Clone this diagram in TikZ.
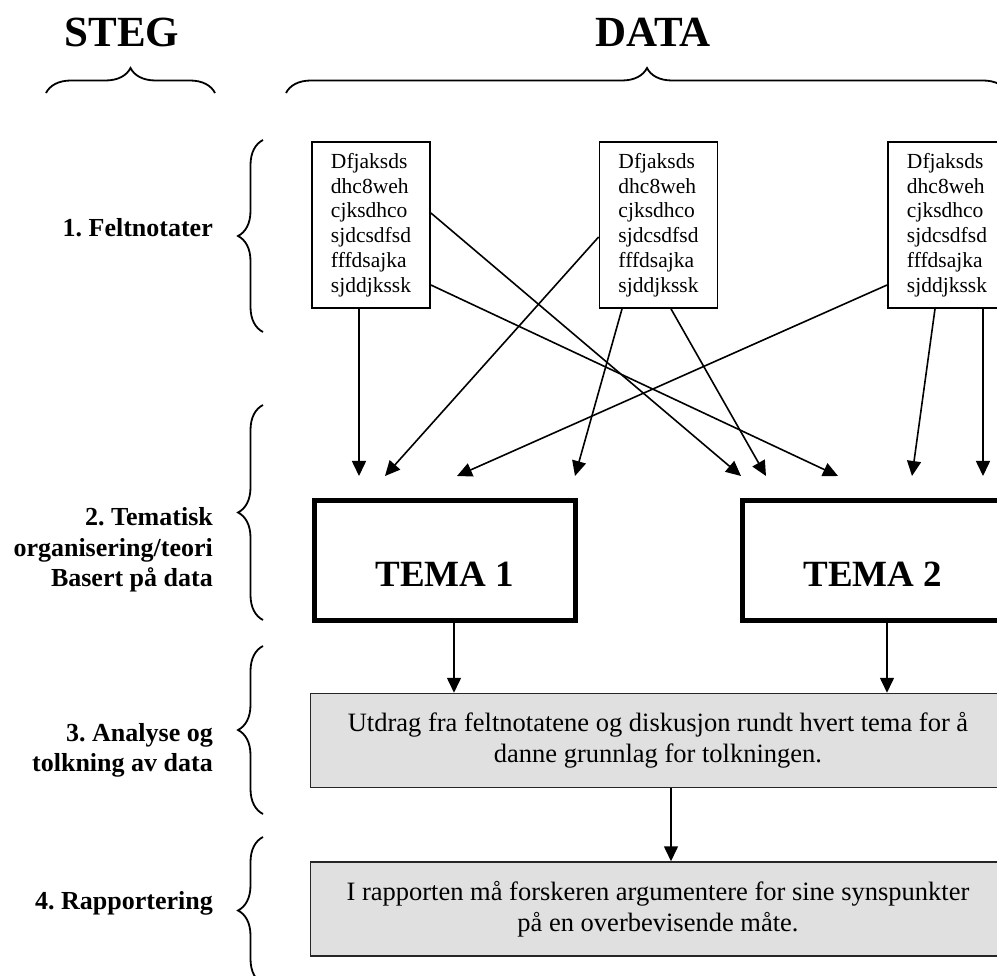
\documentclass[tikz,border=0pt]{standalone}
\usepackage{fontspec}
\setmainfont{Liberation Serif}
\usetikzlibrary{arrows.meta,decorations.pathreplacing,calc}
\frenchspacing
\begin{document}
\begin{tikzpicture}[x=1pt,y=-1pt]
\tikzset{
 notebox/.style={draw, line width=1.8pt, minimum width=118pt, minimum height=166pt, inner sep=0pt, align=left, font=\fontsize{21.5}{24.8}\selectfont},
 temabox/.style={draw, line width=5pt, minimum width=261pt, minimum height=120pt, inner sep=0pt, font=\fontsize{37}{40}\selectfont\bfseries},
 graybox/.style={draw=black!85, fill=black!12, line width=1.5pt, minimum width=695pt, minimum height=94pt, inner sep=0pt, align=center, font=\fontsize{26.5}{31}\selectfont},
 arr/.style={line width=1.6pt, -{Triangle[length=15pt,width=14pt]}},
 brc/.style={decorate, decoration={brace, amplitude=25pt}, line width=1.8pt},
 steplabel/.style={inner sep=0pt, align=right, font=\fontsize{26}{30.5}\selectfont\bfseries},
 header/.style={inner sep=0pt, font=\fontsize{43}{48}\selectfont\bfseries},
}
\useasboundingbox (0,0) rectangle (997,976);
\clip (0,0) rectangle (997,976);

% headers
\node[header, anchor=base] (steg) at (122,47) {STEG};
\node[header, anchor=base] (data) at (653,47) {DATA};
\draw[brc] (46,93) -- (215,93);
\draw[brc] (286,93) -- (1008,93);

% step labels and braces
\node[steplabel, anchor=base east] (s1) at (213,237) {1. Feltnotater};
\node[steplabel, anchor=east] (s2) at (213,550) {2. Tematisk\\organisering/teori\\Basert på data};
\node[steplabel, anchor=east] (s3) at (213,750.5) {3. Analyse og\\tolkning av data};
\node[steplabel, anchor=base east] (s4) at (213,909) {4. Rapportering};
\draw[brc] (263,332) -- (263,140);
\draw[brc] (263,620) -- (263,405);
\draw[brc] (263,814) -- (263,646);
\draw[brc] (263,984) -- (263,837);

% field note boxes
\node[notebox] (n1) at (371,225) {Dfjaksds\\dhc8weh\\cjksdhco\\sjdcsdfsd\\fffdsajka\\sjddjkssk};
\node[notebox] (n2) at (658.5,225) {Dfjaksds\\dhc8weh\\cjksdhco\\sjdcsdfsd\\fffdsajka\\sjddjkssk};
\node[notebox] (n3) at (947,225) {Dfjaksds\\dhc8weh\\cjksdhco\\sjdcsdfsd\\fffdsajka\\sjddjkssk};

% arrow tips
\coordinate (t1) at (359,476);
\coordinate (t2) at (741,476);
\coordinate (t3) at (838,476);
\coordinate (t4) at (385,476);
\coordinate (t5) at (575,476);
\coordinate (t6) at (766,476);
\coordinate (t7) at (457,476);
\coordinate (t8) at (912,476);
\coordinate (t9) at (983,476);

\draw[arr] ([xshift=-12pt]n1.south) -- (t1);
\draw[arr] ([yshift=12pt]n1.east) -- (t2);
\draw[arr] ([yshift=-60pt]n1.east) -- (t3);
\draw[arr] ([yshift=-12pt]n2.west) -- (t4);
\draw[arr] ([xshift=-36.5pt]n2.south) -- (t5);
\draw[arr] ([xshift=12.5pt]n2.south) -- (t6);
\draw[arr] ([yshift=-60pt]n3.west) -- (t7);
\draw[arr] ([xshift=-12pt]n3.south) -- (t8);
\draw[arr] ([xshift=36pt]n3.south) -- (t9);

% theme boxes
\node[temabox] (tema1) at (445,560.5) {\raisebox{-14pt}[\height][\depth]{TEMA 1}};
\node[temabox] (tema2) at (873,560.5) {\raisebox{-14pt}[\height][\depth]{TEMA 2}};

% gray boxes
\node[graybox] (g1) at (658,740.5) {Utdrag fra feltnotatene og diskusjon rundt hvert tema for å\\danne grunnlag for tolkningen.};
\node[graybox] (g2) at (658,909) {I rapporten må forskeren argumentere for sine synspunkter\\på en overbevisende måte.};

\draw[arr] ([xshift=9pt]tema1.south) -- ([xshift=9pt]tema1.south |- g1.north);
\draw[arr] ([xshift=14pt]tema2.south) -- ([xshift=14pt]tema2.south |- g1.north);
\draw[arr] ([xshift=13pt]g1.south) -- ([xshift=13pt]g2.north);
\end{tikzpicture}
\end{document}
